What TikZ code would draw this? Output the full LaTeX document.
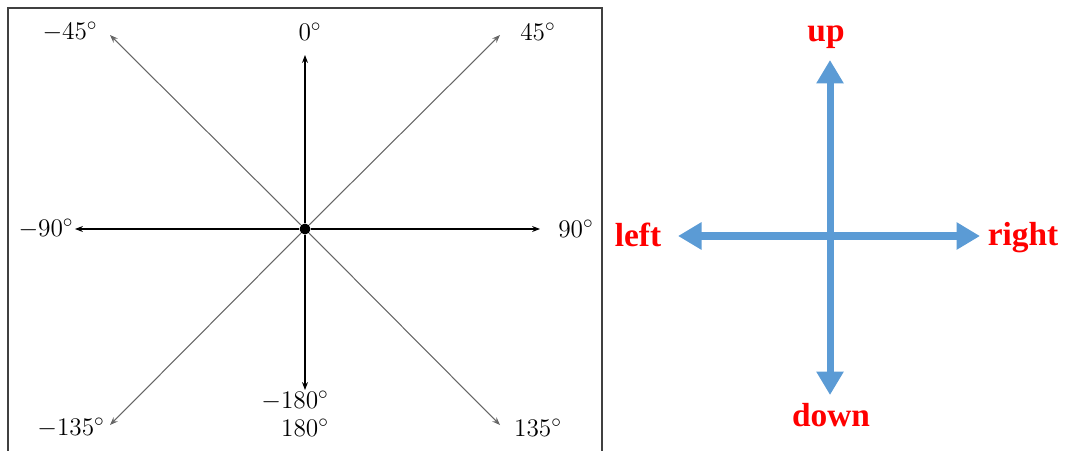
\documentclass[tikz,border=0pt]{standalone}
\usepackage{fontspec}
\newfontfamily\dirfont{Liberation Serif}
\usetikzlibrary{arrows.meta}
\definecolor{arrowblue}{RGB}{91,155,213}

\begin{document}
\begin{tikzpicture}[
  x=0.02cm, y=-0.02cm,
  >={Stealth[length=4.5pt,width=3.4pt]},
  axis/.style={->, line width=0.6pt, black},
  diag/.style={->, line width=0.6pt, black!60},
  angle/.style={inner sep=0pt, font=\fontsize{15}{17}\selectfont},
  frameline/.style={line width=0.9pt, black!75},
  bigarrow/.style={{Triangle[length=0.47cm,width=0.52cm]}-{Triangle[length=0.47cm,width=0.52cm]},
    line width=4pt, arrowblue},
  dirlabel/.style={inner sep=0pt, text=red, font=\dirfont\fontsize{19}{22}\selectfont\bfseries}
]
\useasboundingbox (0,0) rectangle (1067,450);

% Frame
\draw[frameline] (8,455) -- (8,8) -- (602,8) -- (602,455);

% Compass centre and tips
\node[circle, fill=black, inner sep=0pt, minimum size=0.22cm] (o) at (305,229) {};
\coordinate (t0)    at (305,55);
\coordinate (t90)   at (540,229);
\coordinate (tm90)  at (75,229);
\coordinate (t180)  at (305,390);
\coordinate (t45)   at (500,35);
\coordinate (tm45)  at (110,35);
\coordinate (t135)  at (500,425);
\coordinate (tm135) at (110,425);

% Angle labels
\node[angle] (l0)    at (310,32)  {$0^\circ$};
\node[angle] (l45)   at (538,32)  {$45^\circ$};
\node[angle] (lm45)  at (70,32)   {$-45^\circ$};
\node[angle] (l90)   at (576,229) {$90^\circ$};
\node[angle] (lm90)  at (46,229)  {$-90^\circ$};
\node[angle] (l135)  at (538,428) {$135^\circ$};
\node[angle] (lm135) at (71,428)  {$-135^\circ$};
\node[angle] (lm180) at (295,401) {$-180^\circ$};
\node[angle] (l180)  at (305,428) {$180^\circ$};

% Rays
\draw[diag] (o) -- (t45);
\draw[diag] (o) -- (tm45);
\draw[diag] (o) -- (t135);
\draw[diag] (o) -- (tm135);
\draw[axis] (o) -- (t0);
\draw[axis] (o) -- (t90);
\draw[axis] (o) -- (tm90);
\draw[axis] (o) -- (t180);

% Directions
\coordinate (tup)    at (830,60);
\coordinate (tdown)  at (830,395);
\coordinate (tleft)  at (678,236);
\coordinate (tright) at (980,236);

\node[dirlabel] (up)    at (826,37)  {up};
\node[dirlabel] (down)  at (831,415) {down};
\node[dirlabel] (left)  at (638,235) {left};
\node[dirlabel] (right) at (1023,238) {right};

\draw[bigarrow] (tleft) -- (tright);
\draw[bigarrow] (tdown) -- (tup);

\end{tikzpicture}
\end{document}
